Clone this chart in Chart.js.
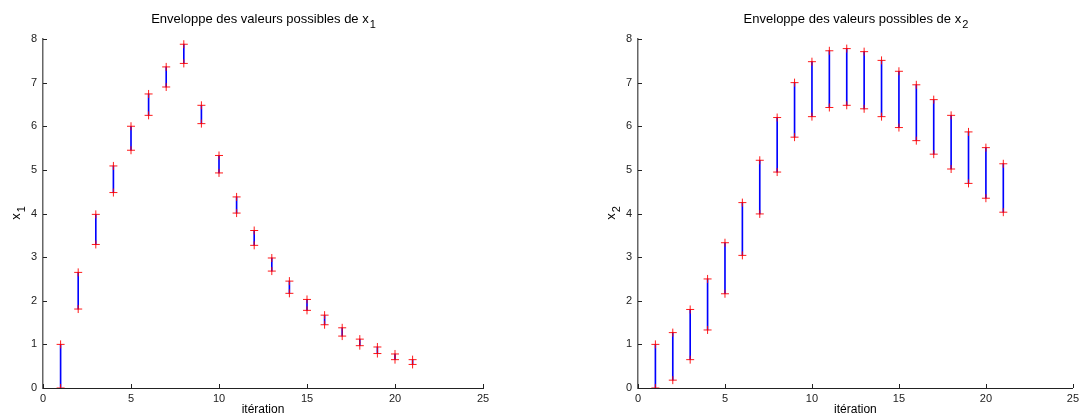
<!DOCTYPE html>
<html>
<head>
<meta charset="utf-8">
<script src="https://cdn.jsdelivr.net/npm/chart.js@4/dist/chart.umd.min.js"></script>
<style>
  body { margin: 0; background: #fff; }
  .wrap { position: absolute; top: 0; height: 417px; }
</style>
</head>
<body>
<div class="wrap" style="left:0;width:541px"><canvas id="chartX1"></canvas></div>
<div class="wrap" style="left:541px;width:542px"><canvas id="chartX2"></canvas></div>
<script>
// iterations 1..21
const iterations = [1,2,3,4,5,6,7,8,9,10,11,12,13,14,15,16,17,18,19,20,21];

// envelope of x1
const x1Min = [0, 1.81, 3.29, 4.48, 5.45, 6.25, 6.90, 7.44, 6.06, 4.93, 4.01, 3.27, 2.68, 2.17, 1.78, 1.45, 1.19, 0.97, 0.79, 0.65, 0.54];
const x1Max = [1.0, 2.65, 3.98, 5.09, 6.00, 6.74, 7.36, 7.88, 6.48, 5.33, 4.38, 3.61, 2.98, 2.45, 2.03, 1.67, 1.38, 1.12, 0.94, 0.78, 0.65];

// envelope of x2
const x2Min = [0, 0.18, 0.65, 1.33, 2.16, 3.04, 3.99, 4.95, 5.75, 6.22, 6.43, 6.48, 6.40, 6.22, 5.97, 5.67, 5.36, 5.02, 4.69, 4.35, 4.03];
const x2Max = [1.0, 1.27, 1.80, 2.50, 3.33, 4.25, 5.22, 6.20, 7.00, 7.48, 7.73, 7.78, 7.71, 7.51, 7.26, 6.95, 6.61, 6.25, 5.87, 5.51, 5.14];

const xTicks = [0, 5, 10, 15, 20, 25];
const yTicks = [0, 1, 2, 3, 4, 5, 6, 7, 8];

const FONT = '"Liberation Sans", Arial, sans-serif';

function drawSub(ctx, base, sub, x, y, size) {
    ctx.font = size + 'px ' + FONT;
    const wb = ctx.measureText(base).width;
    ctx.font = (size - 2) + 'px ' + FONT;
    const ws = ctx.measureText(sub).width;
    const start = x - (wb + ws) / 2;
    ctx.textAlign = 'left';
    ctx.textBaseline = 'middle';
    ctx.font = size + 'px ' + FONT;
    ctx.fillText(base, start, y);
    ctx.font = (size - 2) + 'px ' + FONT;
    ctx.fillText(sub, start + wb + 1, y + 6);
}

const matlabText = {
    id: 'matlabText',
    afterDraw(chart, args, opts) {
        const ctx = chart.ctx;
        const area = chart.chartArea;
        const xs = chart.scales.x, ys = chart.scales.y;
        ctx.save();
        // inward tick marks
        ctx.strokeStyle = '#222';
        ctx.lineWidth = 1;
        ctx.beginPath();
        ys.ticks.forEach(t => {
            const py = Math.round(ys.getPixelForValue(t.value)) + 0.5;
            ctx.moveTo(area.left, py);
            ctx.lineTo(area.left + 4, py);
        });
        xs.ticks.forEach(t => {
            const px = Math.round(xs.getPixelForValue(t.value)) + 0.5;
            ctx.moveTo(px, area.bottom);
            ctx.lineTo(px, area.bottom - 4);
        });
        ctx.stroke();

        ctx.fillStyle = '#000';
        const cx = (area.left + area.right) / 2;
        drawSub(ctx, 'Enveloppe des valeurs possibles de x', opts.sub, cx, 19, 13);

        ctx.font = '12px ' + FONT;
        ctx.textAlign = 'center';
        ctx.textBaseline = 'middle';
        ctx.fillText('itération', cx, 410);

        ctx.translate(area.left - 27, (area.top + area.bottom) / 2);
        ctx.rotate(-Math.PI / 2);
        drawSub(ctx, 'x', opts.sub, 0, 0, 13);
        ctx.restore();
    }
};

function makeChart(id, mins, maxs, sub, padLeft, padRight) {
    const bars = iterations.map((it, i) => ({ x: it, y: [mins[i], maxs[i]] }));
    const marks = [];
    iterations.forEach((it, i) => {
        marks.push({ x: it, y: mins[i] });
        marks.push({ x: it, y: maxs[i] });
    });

    new Chart(document.getElementById(id), {
        type: 'bar',
        data: {
            datasets: [{
                type: 'scatter',
                data: marks,
                pointStyle: 'cross',
                pointRadius: 4,
                pointBorderWidth: 1,
                borderColor: 'rgba(255, 0, 0, 0.9)',
                backgroundColor: 'rgba(255, 0, 0, 0.9)',
                order: 0
            }, {
                data: bars,
                backgroundColor: '#0000ff',
                borderWidth: 0,
                barThickness: 1,
                grouped: false,
                order: 1
            }]
        },
        options: {
            responsive: true,
            maintainAspectRatio: false,
            animation: false,
            layout: { padding: { top: 39, left: padLeft, right: padRight, bottom: 0 } },
            plugins: {
                legend: { display: false },
                tooltip: { enabled: false },
                matlabText: { sub: sub }
            },
            scales: {
                x: {
                    type: 'linear',
                    min: 0,
                    max: 25,
                    offset: false,
                    afterBuildTicks: s => { s.ticks = xTicks.map(v => ({ value: v })); },
                    afterFit: s => { s.height = 29; },
                    grid: { display: true, drawOnChartArea: false, drawTicks: false },
                    border: { display: true, color: '#222', width: 1 },
                    ticks: { color: '#222', padding: 4, maxRotation: 0, font: { family: FONT, size: 11 } }
                },
                y: {
                    min: 0,
                    max: 8,
                    afterBuildTicks: s => { s.ticks = yTicks.map(v => ({ value: v })); },
                    afterFit: s => { s.width = 43; },
                    grid: { display: true, drawOnChartArea: false, drawTicks: false },
                    border: { display: true, color: '#666', width: 1.5 },
                    ticks: { color: '#222', padding: 6, font: { family: FONT, size: 11 } }
                }
            }
        },
        plugins: [matlabText]
    });
}

makeChart('chartX1', x1Min, x1Max, '1', 0, 58);
makeChart('chartX2', x2Min, x2Max, '2', 54, 5);
</script>
</body>
</html>
